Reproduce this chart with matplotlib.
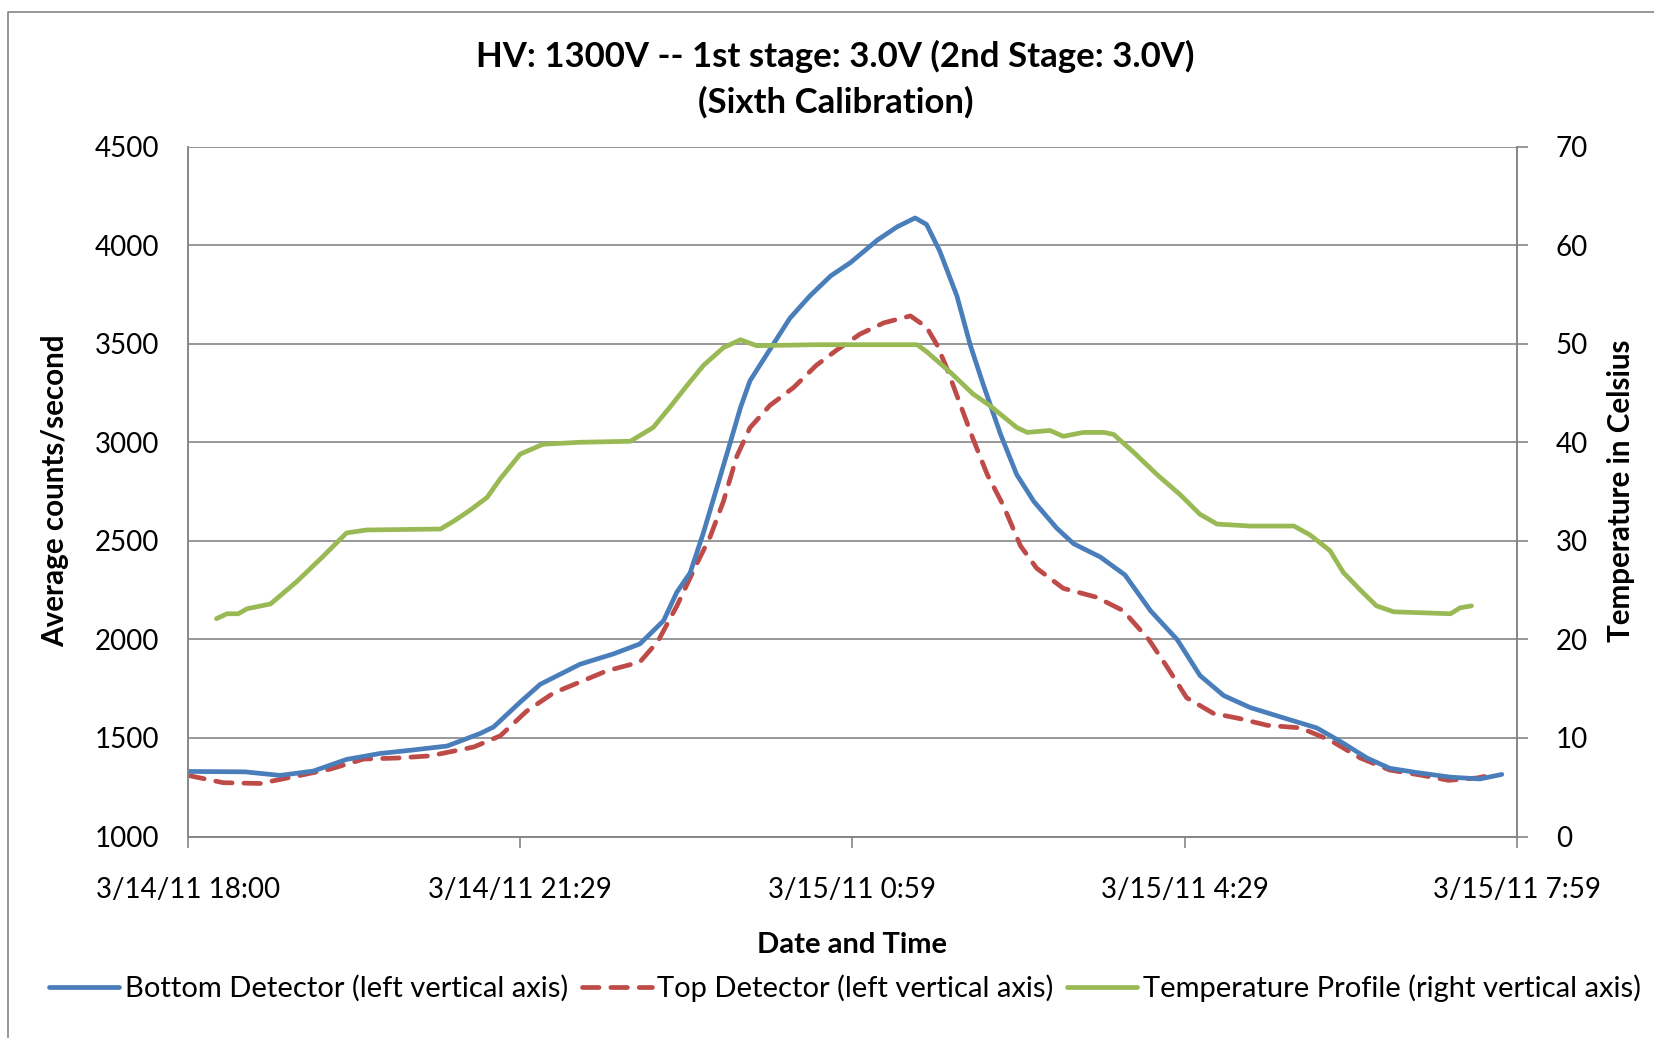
import matplotlib
matplotlib.use("Agg")
import matplotlib.pyplot as plt
from matplotlib.lines import Line2D

plt.rcParams['font.family'] = ['Lato', 'DejaVu Sans']

# horas desde 3/14/11 18:00
bottom_h = [0.00, 0.60, 0.97, 1.32, 1.67, 2.02, 2.37, 2.73, 3.08, 3.22, 3.50, 3.71, 4.13, 4.48,
            4.76, 5.01, 5.15, 5.29, 5.43, 5.57, 5.71, 5.82, 5.92, 6.10, 6.34, 6.55, 6.77, 6.98,
            7.26, 7.47, 7.66, 7.78, 7.92, 8.10, 8.24, 8.38, 8.56, 8.73, 8.91, 9.15, 9.33, 9.61,
            9.87, 10.14, 10.42, 10.66, 10.91, 11.19, 11.54, 11.89, 12.14, 12.42, 12.66, 12.95,
            13.30, 13.61, 13.84]
bottom_v = [1330, 1328, 1310, 1332, 1391, 1421, 1439, 1459, 1523, 1556, 1682, 1772, 1874, 1926,
            1977, 2095, 2240, 2338, 2542, 2768, 2995, 3176, 3312, 3448, 3629, 3742, 3844, 3912,
            4025, 4093, 4138, 4105, 3969, 3742, 3494, 3289, 3040, 2836, 2700, 2565, 2485, 2418,
            2327, 2145, 1999, 1817, 1715, 1654, 1602, 1551, 1482, 1398, 1346, 1324,
            1301, 1292, 1315]

top_h = [0.00, 0.37, 0.76, 1.15, 1.50, 1.85, 2.20, 2.55, 3.01, 3.29, 3.57, 3.85, 4.13, 4.41,
         4.76, 4.95, 5.15, 5.36, 5.50, 5.64, 5.78, 5.92, 6.13, 6.38, 6.62, 6.84, 7.08, 7.33,
         7.61, 7.78, 7.89, 7.99, 8.13, 8.27, 8.42, 8.59, 8.77, 8.94, 9.22, 9.57, 9.85, 10.12,
         10.31, 10.52, 10.80, 11.08, 11.37, 11.72, 12.03, 12.35, 12.66, 12.98, 13.28, 13.58, 13.68]
top_v = [1310, 1273, 1269, 1307, 1342, 1393, 1398, 1409, 1454, 1511, 1637, 1728, 1784, 1840,
         1885, 1990, 2170, 2384, 2520, 2700, 2927, 3074, 3187, 3278, 3391, 3470, 3549, 3606,
         3641, 3584, 3494, 3380, 3198, 3017, 2836, 2678, 2474, 2361, 2259, 2214, 2146, 2000,
         1863, 1704, 1625, 1598, 1564, 1551, 1489, 1398, 1337, 1312, 1285, 1297, 1307]

temp_h = [0.30, 0.41, 0.53, 0.62, 0.87, 1.15, 1.42, 1.67, 1.88, 2.66, 2.80, 2.97, 3.15, 3.29,
          3.50, 3.74, 4.13, 4.66, 4.90, 5.08, 5.26, 5.43, 5.64, 5.82, 5.99, 6.62, 7.68, 7.78,
          8.03, 8.27, 8.45, 8.73, 8.84, 9.08, 9.22, 9.43, 9.65, 9.75, 9.96, 10.21, 10.45, 10.66,
          10.84, 11.19, 11.65, 11.82, 12.03, 12.17, 12.35, 12.52, 12.70, 13.30, 13.40, 13.52]
temp_v = [22.1, 22.6, 22.6, 23.1, 23.6, 25.9, 28.4, 30.8, 31.1, 31.2, 32.0, 33.1, 34.4, 36.3,
          38.8, 39.8, 40.0, 40.1, 41.5, 43.6, 45.8, 47.8, 49.6, 50.4, 49.8, 49.9, 49.9, 49.2,
          47.1, 44.9, 43.7, 41.5, 41.0, 41.2, 40.6, 41.0, 41.0, 40.8, 39.0, 36.7, 34.7, 32.7,
          31.7, 31.5, 31.5, 30.6, 29.0, 26.8, 25.0, 23.4, 22.8, 22.6, 23.2, 23.4]

x_ticks = [0, 3.5, 7, 10.5, 14]
x_labels = ['3/14/11 18:00', '3/14/11 21:29', '3/15/11 0:59', '3/15/11 4:29', '3/15/11 7:59']

gris = '#868686'
W, H = 1654, 1038
fig = plt.figure(figsize=(W / 100, H / 100), dpi=100)
ax = fig.add_axes([188 / W, 1 - 836.5 / H, (1517 - 188) / W, (836.5 - 146.6) / H])
ax2 = ax.twinx()

l1, = ax.plot(bottom_h, bottom_v, color='#4A7EBB', lw=3.4, solid_capstyle='round', zorder=3)
l2, = ax.plot(top_h, top_v, color='#BE4B48', lw=3.4, dashes=(3.5, 2.5),
              dash_capstyle='round', zorder=2)
l3, = ax2.plot(temp_h, temp_v, color='#98B954', lw=3.4, solid_capstyle='round')

ax.set_xlim(0, 14)
ax.set_ylim(1000, 4500)
ax.set_yticks(range(1000, 4501, 500))
ax2.set_ylim(0, 70)
ax2.set_yticks(range(0, 71, 10))
ax.set_xticks(x_ticks)
ax.set_xticklabels(x_labels)

ax.grid(axis='y', color=gris, lw=1.2)
ax.set_axisbelow(True)
for a in (ax, ax2):
    for s in a.spines.values():
        s.set_color(gris)
        s.set_linewidth(1.2)
    a.spines['top'].set_visible(False)
ax.tick_params(axis='x', length=8, width=1.2, color=gris, pad=21, labelsize=20)
ax.tick_params(axis='y', length=0, pad=21, labelsize=20)
ax2.tick_params(axis='y', length=8, width=1.2, color=gris, pad=20, labelsize=20)

fig.text(0.505, 1 - 79 / H, 'HV: 1300V -- 1st stage: 3.0V (2nd Stage: 3.0V)\n(Sixth Calibration)',
         ha='center', va='center', fontsize=25, fontweight='bold', linespacing=1.5)
fig.text(852 / W, 1 - 945 / H, 'Date and Time', ha='center', va='center',
         fontsize=21, fontweight='bold')
fig.text(55 / W, 1 - 491 / H, 'Average counts/second', ha='center', va='center',
         rotation=90, fontsize=21.3, fontweight='bold')
fig.text(1621 / W, 1 - 491 / H, 'Temperature in Celsius', ha='center', va='center',
         rotation=90, fontsize=21.3, fontweight='bold')

fig.legend([l1, l2, l3],
           ['Bottom Detector (left vertical axis)', 'Top Detector (left vertical axis)',
            'Temperature Profile (right vertical axis)'],
           loc='center', bbox_to_anchor=(845 / W, 1 - 988 / H), ncol=3, frameon=False,
           fontsize=21, handlelength=2.4, handletextpad=0.2, columnspacing=0.45)

# borde del area del grafico
fig.add_artist(Line2D([8 / W, 8 / W, 1], [0, 1 - 12 / H, 1 - 12 / H],
                      transform=fig.transFigure, color=gris, lw=1.2))

fig.savefig('out.png', dpi=100)
